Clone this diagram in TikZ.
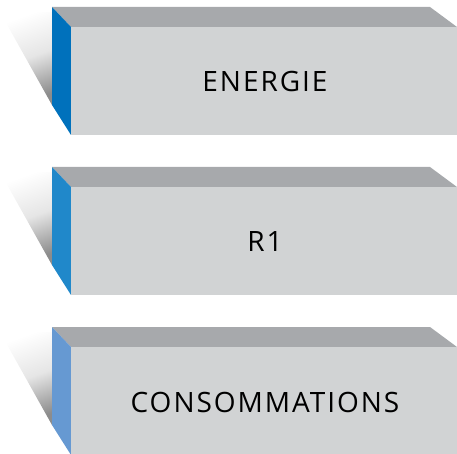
\documentclass[tikz,border=0pt]{standalone}
\usepackage{fontspec}
\setmainfont[LetterSpace=7]{Open Sans}
\definecolor{topgray}{HTML}{A7A9AC}
\definecolor{frontgray}{HTML}{D1D3D4}
\definecolor{blueA}{HTML}{0071BC}
\definecolor{blueB}{HTML}{2088CA}
\definecolor{blueC}{HTML}{6699D2}
\begin{document}
\begin{tikzpicture}[x=1pt,y=-1pt]
    \useasboundingbox (0,0) rectangle (457,454);
    \tikzset{label/.style={font=\fontsize{28}{33}\selectfont,text=black,inner sep=0pt}}
    \foreach \y/\col/\txt/\nm in {0/blueA/ENERGIE/energie,160/blueB/R1/rone,320/blueC/CONSOMMATIONS/conso} {
        \shade[top color=white,bottom color=black!45,middle color=black!10,shading angle=20] (0,\y+12)--(52,\y+12)--(52,\y+105)--cycle;
        \fill[topgray] (52,\y+7)--(430,\y+7)--(457,\y+27)--(71,\y+27)--cycle;
        \fill[\col] (52,\y+7)--(71,\y+27)--(71,\y+135)--(52,\y+105)--cycle;
        \fill[frontgray] (71,\y+27) rectangle (457,\y+135);
        \node[label] (\nm) at (265,\y+82) {\txt};
    }
\end{tikzpicture}
\end{document}
